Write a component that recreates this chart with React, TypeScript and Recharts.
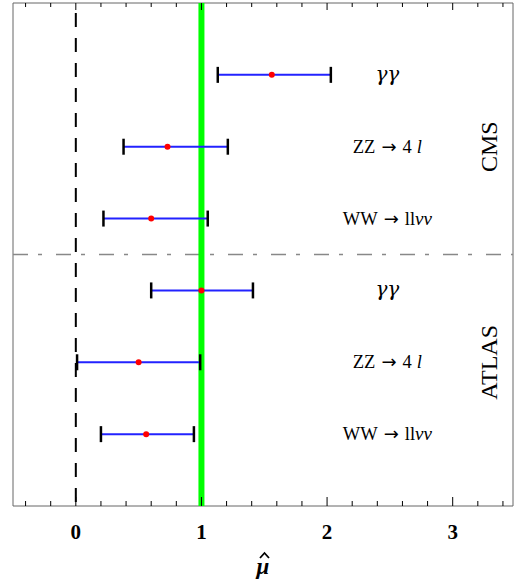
import React from 'react';
import { ComposedChart, XAxis, YAxis, Scatter, ReferenceLine, ReferenceArea } from 'recharts';

const channels = ['γγ', 'ZZ → 4 l', 'WW → llνν', 'γγ', 'ZZ → 4 l', 'WW → llνν'];
const rows = [6, 5, 4, 3, 2, 1];
const centers = [1.56, 0.73, 0.6, 1.0, 0.5, 0.56];
const lows = [1.13, 0.38, 0.22, 0.6, 0.01, 0.2];
const highs = [2.03, 1.21, 1.05, 1.41, 0.99, 0.94];
const experiments = ['CMS', 'ATLAS'];
const experimentRows = [5, 2];
const separatorY = 3.5;
const smValue = 1;
const zeroValue = 0;
const majorTicks = [0, 1, 2, 3];
const allTicks = [-0.4, -0.2, 0, 0.2, 0.4, 0.6, 0.8, 1, 1.2, 1.4, 1.6, 1.8, 2, 2.2, 2.4, 2.6, 2.8, 3, 3.2, 3.4];

const X_DOMAIN: [number, number] = [-0.5, 3.48];
const Y_DOMAIN: [number, number] = [0, 7];
const LABEL_X = 2.48;
const EXP_X = 3.29;
const SERIF = '"Liberation Serif", "Times New Roman", serif';
const GREEK = '"DejaVu Serif", "Liberation Serif", serif';

const isMajor = (v: number) => majorTicks.some((m) => Math.abs(m - v) < 1e-6);

const BottomTick = (props: any) => {
  const { x, y, payload } = props;
  const major = isMajor(payload.value);
  return (
    <g>
      <line x1={x} x2={x} y1={y} y2={y - (major ? 9 : 5)} stroke="#000" strokeWidth={1} />
      {major && (
        <text x={x} y={y + 33} textAnchor="middle" fontFamily={SERIF} fontWeight="bold" fontSize={21} fill="#000">
          {Math.round(payload.value)}
        </text>
      )}
    </g>
  );
};

const TopTick = (props: any) => {
  const { x, y, payload } = props;
  const major = isMajor(payload.value);
  return <line x1={x} x2={x} y1={y} y2={y + (major ? 7 : 4)} stroke="#000" strokeWidth={1} />;
};

const AxisTitle = (props: any) => {
  const vb = props.viewBox || {};
  const cx = vb.x + vb.width / 2;
  const hy = vb.y + 47;
  return (
    <g>
      <text x={cx} y={vb.y + 68} textAnchor="middle" fontFamily={SERIF} fontWeight="bold" fontStyle="italic" fontSize={23} fill="#000">
        μ
      </text>
      <path
        d={`M ${cx - 3} ${hy + 5} L ${cx + 1.5} ${hy} L ${cx + 6} ${hy + 5}`}
        fill="none"
        stroke="#000"
        strokeWidth={1.8}
      />
    </g>
  );
};

const Cap = (props: any) => {
  const { cx, cy } = props;
  return <line x1={cx} x2={cx} y1={cy - 8} y2={cy + 8} stroke="#000" strokeWidth={2.5} />;
};

const Dot = (props: any) => {
  const { cx, cy } = props;
  return <circle cx={cx} cy={cy} r={3} fill="#ff0000" />;
};

const renderLabel = (name: string) => {
  const parts = name.split(/\s*(→)\s*|(γ+|ν+|(?<=4 )l)/).filter((p) => p !== undefined && p !== '');
  let afterArrow = false;
  return parts.map((p, i) => {
    const dx = afterArrow ? 6 : 0;
    afterArrow = false;
    if (/^γ+$/.test(p))
      return (
        <tspan key={i} fontFamily={GREEK} fontStyle="italic" fontSize={20}>
          {p}
        </tspan>
      );
    if (/^ν+$/.test(p))
      return (
        <tspan key={i} fontStyle="italic" fontSize={19}>
          {p}
        </tspan>
      );
    if (p === '→') {
      afterArrow = true;
      return (
        <tspan key={i} dx={6} fontFamily='"DejaVu Sans", sans-serif' fontSize={18}>
          {p}
        </tspan>
      );
    }
    if (p === 'l')
      return (
        <tspan key={i} fontStyle="italic" dx={5}>
          {p}
        </tspan>
      );
    return (
      <tspan key={i} dx={dx}>
        {p.trim()}
      </tspan>
    );
  });
};

const ChannelLabel = (props: any) => {
  const { cx, cy, payload } = props;
  return (
    <text x={cx} y={cy} dy={6} textAnchor="middle" fontFamily={SERIF} fontSize={18.5} fill="#000">
      {renderLabel(payload.name)}
    </text>
  );
};

const ExpLabel = (props: any) => {
  const { cx, cy, payload } = props;
  return (
    <text
      x={cx}
      y={cy}
      textAnchor="middle"
      dominantBaseline="central"
      transform={`rotate(-90 ${cx} ${cy})`}
      fontFamily={SERIF}
      fontSize={24}
      fill="#000"
    >
      {payload.name}
    </text>
  );
};

const channelData = channels.map((name, i) => ({ x: LABEL_X, y: rows[i], name }));
const expData = experiments.map((name, i) => ({ x: EXP_X, y: experimentRows[i], name }));
const centerData = centers.map((c, i) => ({ x: c, y: rows[i] }));
const barData = rows.map((r, i) => [
  { x: lows[i], y: r },
  { x: highs[i], y: r },
]);

export default function App() {
  return (
    <div style={{ position: 'absolute', left: 0, top: 0 }}>
      <ComposedChart width={518} height={584} margin={{ top: 0, right: 5, bottom: 0, left: 13 }}>
        <XAxis
          xAxisId="b"
          type="number"
          dataKey="x"
          domain={X_DOMAIN}
          allowDataOverflow
          ticks={allTicks}
          interval={0}
          tickSize={0}
          tickMargin={0}
          tickLine={false}
          axisLine={false}
          tick={<BottomTick />}
          height={78}
          label={<AxisTitle />}
        />
        <XAxis
          xAxisId="t"
          orientation="top"
          type="number"
          dataKey="x"
          domain={X_DOMAIN}
          allowDataOverflow
          ticks={allTicks}
          interval={0}
          tickSize={0}
          tickMargin={0}
          tickLine={false}
          axisLine={false}
          tick={<TopTick />}
          height={3}
        />
        <YAxis yAxisId="l" type="number" dataKey="y" domain={Y_DOMAIN} allowDataOverflow hide />
        <ReferenceArea
          xAxisId="b"
          yAxisId="l"
          x1={X_DOMAIN[0]}
          x2={X_DOMAIN[1]}
          y1={Y_DOMAIN[0]}
          y2={Y_DOMAIN[1]}
          fill="none"
          fillOpacity={0}
          stroke="#666"
          strokeWidth={1}
          ifOverflow="visible"
        />
        <ReferenceLine
          xAxisId="b"
          yAxisId="l"
          y={separatorY}
          stroke="#888"
          strokeWidth={1.5}
          strokeDasharray="15 10 4 14"
        />
        <ReferenceLine
          xAxisId="b"
          yAxisId="l"
          x={zeroValue}
          stroke="#000"
          strokeWidth={2}
          strokeDasharray="14 11"
          strokeDashoffset={-4}
        />
        <ReferenceLine xAxisId="b" yAxisId="l" x={smValue} stroke="#00ff00" strokeWidth={6} />
        {barData.map((d, i) => (
          <Scatter
            key={i}
            xAxisId="b"
            yAxisId="l"
            data={d}
            line={{ stroke: '#2222ff', strokeWidth: 2 }}
            lineType="joint"
            shape={<Cap />}
            isAnimationActive={false}
          />
        ))}
        <Scatter xAxisId="b" yAxisId="l" data={centerData} shape={<Dot />} isAnimationActive={false} />
        <Scatter xAxisId="b" yAxisId="l" data={channelData} shape={<ChannelLabel />} isAnimationActive={false} />
        <Scatter xAxisId="b" yAxisId="l" data={expData} shape={<ExpLabel />} isAnimationActive={false} />
      </ComposedChart>
    </div>
  );
}
